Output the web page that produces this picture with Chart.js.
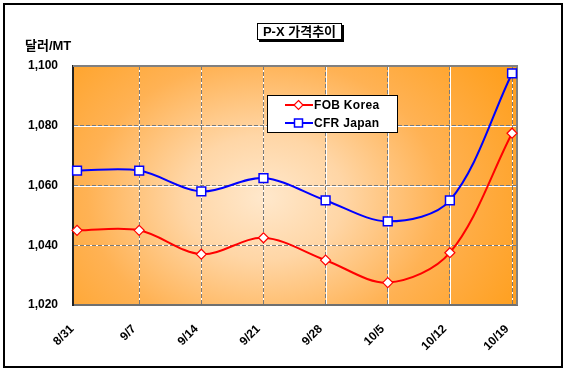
<!DOCTYPE html>
<html><head><meta charset="utf-8">
<script src="https://cdn.jsdelivr.net/npm/chart.js@4.4.1/dist/chart.umd.min.js"></script>
<style>
html,body{margin:0;padding:0;background:#fff;}
#wrap{position:relative;width:568px;height:375px;overflow:hidden;font-family:"Liberation Sans",Arial,sans-serif;}
canvas{position:absolute;left:0;top:0;}
#frame{position:absolute;left:3px;top:3px;width:556px;height:361px;border:2px solid #000;pointer-events:none;}
#title{position:absolute;left:257px;top:23px;width:83px;height:15px;border:1px solid #000;background:#fff;box-shadow:2px 2px 0 #000;font:bold 13px "Liberation Sans","Noto Sans CJK KR",sans-serif;line-height:15px;text-align:center;white-space:nowrap;}
#unit{position:absolute;left:25px;top:37px;font:bold 13px "Liberation Sans","Noto Sans CJK KR",sans-serif;line-height:17px;white-space:nowrap;}
#legend{position:absolute;left:267px;top:95px;width:129px;height:36px;border:1px solid #000;background:#fff;}
.row{position:absolute;left:0;height:18px;width:129px;font:bold 12px "Liberation Sans",Arial,sans-serif;line-height:18px;white-space:nowrap;}
.row svg{position:absolute;left:17px;top:3px;}
.row span{position:absolute;left:46px;top:0;letter-spacing:0.3px;}
</style></head>
<body>
<div id="wrap">
<canvas id="c" width="568" height="375"></canvas>
<div id="frame"></div>
<div id="title">P-X 가격추이</div>
<div id="unit">달러/MT</div>
<div id="legend"></div>
</div>
<script>
const categories = ['8/31','9/7','9/14','9/21','9/28','10/5','10/12','10/19'];
const fobKorea = [1045, 1045, 1037, 1042.5, 1035, 1027.5, 1037.5, 1077.5];
const cfrJapan = [1065, 1065, 1058, 1062.5, 1055, 1048, 1055, 1097.5];
const yTicks = [1020, 1040, 1060, 1080, 1100];
const seriesNames = ['FOB Korea', 'CFR Japan'];
const seriesColors = ['#FF0000', '#0000FF'];

const toPts = arr => arr.map((v, i) => ({x: i, y: v}));

const bgPlugin = {
  id: 'bg',
  beforeDraw(chart) {
    const {ctx, chartArea: a, scales} = chart;
    const w = a.right - a.left, h = a.bottom - a.top;
    ctx.save();
    ctx.beginPath(); ctx.rect(a.left, a.top, w, h); ctx.clip();
    const cx = a.left + w * 0.43, cy = a.top + h * 0.55;
    ctx.translate(cx, cy);
    ctx.scale(1, 0.78);
    const R = 285;
    const g = ctx.createRadialGradient(0, 0, 0, 0, 0, R);
    g.addColorStop(0, '#FFE8CC');
    g.addColorStop(0.28, '#FFD6A6');
    g.addColorStop(0.62, '#FFB254');
    g.addColorStop(1, '#FFA020');
    ctx.fillStyle = g;
    ctx.fillRect(-R * 2, -R * 2, R * 4, R * 4);
    ctx.restore();
    // white base under dashed grid lines
    ctx.save();
    ctx.strokeStyle = '#FFFFFF';
    ctx.lineWidth = 1;
    yTicks.slice(1, -1).forEach(v => {
      const y = Math.round(scales.y.getPixelForValue(v)) + 0.5;
      ctx.beginPath(); ctx.moveTo(a.left, y); ctx.lineTo(a.right, y); ctx.stroke();
    });
    categories.forEach((c, i) => {
      if (i === 0) return;
      const x = Math.round(scales.x.getPixelForValue(i)) + 0.5;
      ctx.beginPath(); ctx.moveTo(x, a.top); ctx.lineTo(x, a.bottom); ctx.stroke();
    });
    ctx.restore();
  },
  beforeDatasetsDraw(chart) {
    const {ctx, chartArea: a} = chart;
    ctx.save();
    ctx.strokeStyle = '#808080';
    ctx.lineWidth = 2;
    ctx.beginPath();
    ctx.moveTo(a.left, a.top);
    ctx.lineTo(a.right, a.top);
    ctx.lineTo(a.right, a.bottom);
    ctx.stroke();
    ctx.restore();
  }
};

const tickFont = {family: '"Liberation Sans", Arial, sans-serif', size: 12, weight: 'bold'};

new Chart(document.getElementById('c'), {
  type: 'line',
  data: {
    datasets: [
      {
        label: seriesNames[0], data: toPts(fobKorea),
        borderColor: seriesColors[0], borderWidth: 2, tension: 0.33,
        pointStyle: 'rectRot', pointRadius: 5, pointBackgroundColor: '#FFFFFF',
        pointBorderColor: seriesColors[0], pointBorderWidth: 1.2, clip: false
      },
      {
        label: seriesNames[1], data: toPts(cfrJapan),
        borderColor: seriesColors[1], borderWidth: 2, tension: 0.33,
        pointStyle: 'rect', pointRadius: 6.2, pointBackgroundColor: '#FFFFFF',
        pointBorderColor: seriesColors[1], pointBorderWidth: 1.5, clip: false
      }
    ]
  },
  options: {
    responsive: false, animation: false, devicePixelRatio: 1,
    layout: {padding: {top: 66, right: 51, left: 0, bottom: 0}},
    plugins: {legend: {display: false}, tooltip: {enabled: false}},
    scales: {
      x: {
        type: 'linear', min: -0.065, max: 7.08,
        afterBuildTicks: s => { s.ticks = categories.map((_, i) => ({value: i})); },
        afterFit: s => { s.height = 70; },
        ticks: {
          callback: v => categories[v], autoSkip: false,
          maxRotation: 45, minRotation: 45, font: tickFont, color: '#000',
          padding: 17, labelOffset: -5
        },
        grid: {
          drawTicks: false, lineWidth: 1,
          color: c => (c.tick && c.tick.value === 0) ? 'rgba(0,0,0,0)' : '#7A7A7A'
        },
        border: {display: true, color: '#707070', width: 2, dash: [4, 2]}
      },
      y: {
        min: 1020, max: 1100,
        afterBuildTicks: s => { s.ticks = yTicks.map(v => ({value: v})); },
        afterFit: s => { s.width = 73; },
        ticks: {
          callback: v => v.toLocaleString('en-US'), font: tickFont, color: '#000', padding: 15
        },
        grid: {
          drawTicks: false, lineWidth: 1,
          color: c => (c.tick && (c.tick.value === 1020 || c.tick.value === 1100)) ? 'rgba(0,0,0,0)' : '#7A7A7A'
        },
        border: {display: true, color: '#222222', width: 2, dash: [4, 2]}
      }
    }
  },
  plugins: [bgPlugin]
});

// HTML legend built from the series arrays
const leg = document.getElementById('legend');
seriesNames.forEach((name, i) => {
  const row = document.createElement('div');
  row.className = 'row';
  row.style.top = (i * 18) + 'px';
  const col = seriesColors[i];
  const marker = i === 0
    ? `<polygon points="13.5,1.5 18,6 13.5,10.5 9,6" fill="#fff" stroke="${col}" stroke-width="1.2"/>`
    : `<rect x="9.5" y="2" width="8" height="8" fill="#fff" stroke="${col}" stroke-width="1.5"/>`;
  row.innerHTML = `<svg width="28" height="12"><line x1="0" y1="6" x2="28" y2="6" stroke="${col}" stroke-width="2"/>${marker}</svg><span>${name}</span>`;
  leg.appendChild(row);
});
</script>
</body></html>
